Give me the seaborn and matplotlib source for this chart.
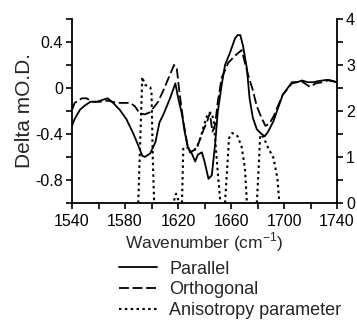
import numpy as np
import pandas as pd
import matplotlib
matplotlib.use('Agg')
import matplotlib.pyplot as plt
from matplotlib.ticker import MultipleLocator, FixedLocator
import seaborn as sns

# parallel polarisation (delta mOD)
par_x = [1540, 1542, 1546, 1550, 1554, 1559, 1564, 1567, 1571, 1576, 1581, 1586, 1590, 1593, 1595,
         1599, 1603, 1606, 1609, 1614, 1618, 1620, 1623, 1625, 1627.5, 1630, 1633, 1635, 1638, 1640,
         1643, 1645.5, 1648, 1650, 1653, 1655.5, 1659, 1663, 1665, 1667, 1669, 1672, 1674, 1676.5,
         1679.5, 1683, 1685.5, 1688, 1692, 1699, 1706, 1710, 1713.5, 1718, 1722, 1726, 1732, 1736, 1740]
par_y = [-0.33, -0.27, -0.19, -0.15, -0.12, -0.12, -0.10, -0.09, -0.13, -0.19, -0.27, -0.39, -0.50, -0.59, -0.60,
         -0.57, -0.47, -0.30, -0.23, -0.09, 0.04, -0.08, -0.23, -0.38, -0.52, -0.56, -0.64, -0.58, -0.56, -0.64,
         -0.79, -0.76, -0.49, -0.21, 0.03, 0.20, 0.30, 0.43, 0.46, 0.46, 0.37, 0.17, -0.09, -0.26,
         -0.36, -0.40, -0.42, -0.38, -0.29, -0.06, 0.05, 0.05, 0.065, 0.05, 0.05, 0.06, 0.07, 0.06, 0.05]

# orthogonal polarisation (delta mOD)
ort_x = [1540, 1542, 1547.5, 1551, 1555, 1561, 1567, 1574, 1578.5, 1584, 1587.5, 1591, 1595, 1599,
         1603, 1605, 1609, 1613, 1617, 1619, 1621, 1624, 1627, 1629, 1634, 1638, 1642, 1644, 1646,
         1648, 1650, 1653, 1658, 1663, 1668, 1670.5, 1673, 1676, 1679.5, 1683, 1686, 1689, 1692,
         1699, 1706, 1713, 1719.5, 1724, 1729, 1734, 1740]
ort_y = [-0.19, -0.13, -0.09, -0.09, -0.12, -0.12, -0.11, -0.13, -0.13, -0.13, -0.16, -0.22, -0.23, -0.21,
         -0.15, -0.12, -0.02, 0.09, 0.20, 0.18, -0.03, -0.29, -0.49, -0.56, -0.53, -0.40, -0.29, -0.22, -0.38,
         -0.32, -0.12, 0.09, 0.22, 0.28, 0.33, 0.22, 0.11, 0.00, -0.16, -0.26, -0.33, -0.31, -0.25,
         -0.06, 0.04, 0.06, 0.01, 0.04, 0.05, 0.07, 0.05]

# anisotropy parameter (right axis), only the visible pieces
ani_x = [1590, 1592, 1593, 1595, 1599, 1600, 1601, 1602,
         1617, 1618.5, 1621,
         1623, 1624, 1628, 1630, 1634, 1637, 1639, 1642, 1643, 1645.5, 1647, 1650, 1652,
         1655.5, 1658.5, 1661, 1665, 1668, 1670.5, 1672,
         1679.5, 1681, 1682, 1684.5, 1688, 1692, 1695, 1696.5]
ani_y = [0.0, 1.8, 2.74, 2.57, 2.52, 2.40, 0.93, 0.0,
         0.05, 0.2, 0.0,
         0.0, 1.2, 1.2, 1.09, 1.2, 1.41, 1.63, 1.9, 1.96, 1.96, 1.76, 0.67, 0.0,
         0.0, 1.41, 1.52, 1.45, 1.22, 0.76, 0.0,
         0.0, 0.83, 1.48, 1.43, 1.2, 0.98, 0.54, 0.0]
ani_seg = [1] * 8 + [2] * 3 + [3] * 13 + [4] * 7 + [5] * 8

x_ticks = [1540, 1580, 1620, 1660, 1700, 1740]
y_ticks = [-0.8, -0.4, 0, 0.4]
y_ticklabels = ['-0.8', '-0.4', '0', '0.4']
r_ticks = [0, 1, 2, 3, 4]

par = pd.DataFrame({'wn': par_x, 'od': par_y})
ort = pd.DataFrame({'wn': ort_x, 'od': ort_y})
ani = pd.DataFrame({'wn': ani_x, 'r': ani_y, 'seg': ani_seg})

sns.set_style('ticks')
plt.rcParams['font.family'] = ['Liberation Sans', 'DejaVu Sans']
plt.rcParams['mathtext.fontset'] = 'custom'
plt.rcParams['mathtext.rm'] = 'Liberation Sans'

fig = plt.figure(figsize=(3.57, 3.2), dpi=100)
ax = fig.add_axes([0.2017, 0.366, 0.7423, 0.5746])
ax2 = ax.twinx()

lw = 1.3
sns.lineplot(data=par, x='wn', y='od', ax=ax, color='black', linewidth=lw, label='Parallel', legend=False)
sns.lineplot(data=ort, x='wn', y='od', ax=ax, color='black', linewidth=lw,
             linestyle=(0, (5.5, 2.0)), label='Orthogonal', legend=False)
sns.lineplot(data=ani, x='wn', y='r', units='seg', estimator=None, ax=ax2, color='black',
             linewidth=1.5, linestyle=(0, (1.2, 1.6)), label='Anisotropy parameter', legend=False)

ax.set_xlim(1540, 1740)
ax.set_ylim(-1.0, 0.6)
ax2.set_ylim(0, 4)

ax.set_xticks(x_ticks)
ax.xaxis.set_minor_locator(MultipleLocator(20))
ax.set_yticks(y_ticks)
ax.set_yticklabels(y_ticklabels)
ax.yaxis.set_minor_locator(FixedLocator([-1.0, -0.6, -0.2, 0.2, 0.6]))
ax2.set_yticks(r_ticks)
ax2.yaxis.set_minor_locator(MultipleLocator(0.5))

for a in (ax, ax2):
    a.tick_params(which='both', direction='out', length=4.5, width=1.2, color='black', pad=2,
                  labelsize=11.5, labelcolor='black')
    for s in a.spines.values():
        s.set_linewidth(1.3)
        s.set_color('black')
    a.spines['top'].set_visible(False)
ax.tick_params(axis='x', which='both', pad=3.5)
ax.spines['right'].set_visible(False)
ax2.spines['left'].set_visible(False)
ax2.spines['bottom'].set_visible(False)

ax.set_xlabel('Wavenumber (cm$^{-1}$)', fontsize=12.5, labelpad=1)
ax.set_ylabel('Delta mO.D.', fontsize=15, labelpad=1)
ax2.set_ylabel('')

handles, labels = [], []
for a in (ax, ax2):
    for h, l in zip(*a.get_legend_handles_labels()):
        if l not in labels:
            handles.append(h)
            labels.append(l)
fig.legend(handles, labels, loc='upper left', bbox_to_anchor=(0.333, 0.185), frameon=False,
           borderpad=0, borderaxespad=0, handlelength=2.1, handletextpad=0.7, labelspacing=0.2,
           fontsize=13)

fig.savefig('out.png', dpi=100)
